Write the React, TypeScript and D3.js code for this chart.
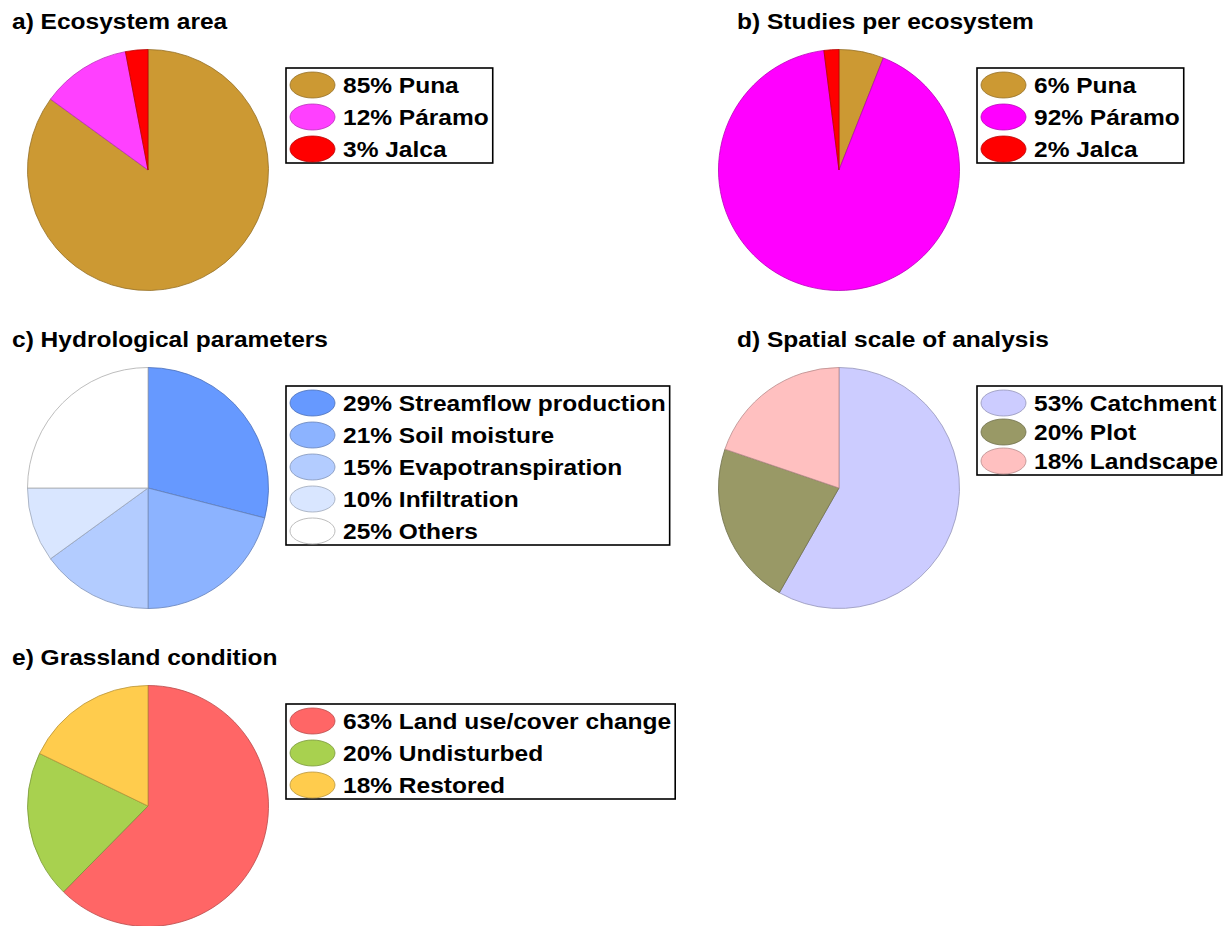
import React, { useEffect, useRef } from "react";
import * as d3 from "d3";

// Share of each category, in percent, per panel
const ecosystems = ["Puna", "Páramo", "Jalca"];
const areaShare = [85, 12, 3];
const studyShare = [6, 92, 2];

const hydroParams = ["Streamflow production", "Soil moisture", "Evapotranspiration", "Infiltration", "Others"];
const hydroShare = [29, 21, 15, 10, 25];

const spatialScales = ["Catchment", "Plot", "Landscape"];
const spatialShare = [53, 20, 18];

const conditions = ["Land use/cover change", "Undisturbed", "Restored"];
const conditionShare = [63, 20, 18];

// Fill colours per panel
const areaColors = ["#CC9933", "#FF40FF", "#FF0000"];
const studyColors = ["#CC9933", "#FF00FF", "#FF0000"];
const hydroColors = ["#6699FF", "#8CB3FF", "#B3CCFF", "#D9E6FF", "#FFFFFF"];
const spatialColors = ["#CCCCFF", "#999966", "#FFC0C0"];
const conditionColors = ["#FF6666", "#A8D14F", "#FFCC4D"];

const titles = [
  "a) Ecosystem area",
  "b) Studies per ecosystem",
  "c) Hydrological parameters",
  "d) Spatial scale of analysis",
  "e) Grassland condition",
];

const W = 1226;
const H = 926;
const FONT = "'Liberation Sans', Arial, Helvetica, sans-serif";
const FONT_SIZE = 21.5;
const STRETCH = 1.14;

export default function App() {
  const ref = useRef<SVGSVGElement | null>(null);

  useEffect(() => {
    const panels = [
      { title: titles[0], labels: ecosystems, values: areaShare, colors: areaColors, rowH: 32 },
      { title: titles[1], labels: ecosystems, values: studyShare, colors: studyColors, rowH: 32 },
      { title: titles[2], labels: hydroParams, values: hydroShare, colors: hydroColors, rowH: 32 },
      { title: titles[3], labels: spatialScales, values: spatialShare, colors: spatialColors, rowH: 29 },
      { title: titles[4], labels: conditions, values: conditionShare, colors: conditionColors, rowH: 32 },
    ];

    const svg = d3.select(ref.current);
    svg.selectAll("*").remove();

    const colX = d3.scaleOrdinal<number, number>().domain([0, 1]).range([0, 691]);
    const titleX = d3.scaleOrdinal<number, number>().domain([0, 1]).range([12, 46]);
    const rowY = d3.scaleLinear().domain([0, 1]).range([0, 318]);

    const radius = 120.5;
    const pie = d3.pie<number>().sort(null).value((d) => d);
    const arc = d3.arc<d3.PieArcDatum<number>>().innerRadius(0).outerRadius(radius);
    const edge = (c: string) => d3.rgb(c).darker(c.toUpperCase() === "#FFFFFF" ? 1.1 : 0.9).formatHex();

    panels.forEach((p, i) => {
      const col = i % 2;
      const g = svg
        .append("g")
        .attr("transform", `translate(${colX(col)},${rowY(Math.floor(i / 2))})`);

      // panel title
      g.append("text")
        .attr("transform", `translate(${titleX(col)},29) scale(${STRETCH},1)`)
        .attr("font-family", FONT)
        .attr("font-weight", "bold")
        .attr("font-size", FONT_SIZE)
        .attr("fill", "#000")
        .text(p.title);

      // pie, starting at 12 o'clock and running clockwise
      const pg = g.append("g").attr("transform", "translate(148,170)");
      pg.selectAll("path")
        .data(pie(p.values))
        .join("path")
        .attr("d", arc)
        .attr("fill", (_, j) => p.colors[j])
        .attr("stroke", (_, j) => edge(p.colors[j]))
        .attr("stroke-width", 0.8)
        .attr("stroke-linejoin", "round");

      // legend
      const lg = g.append("g");
      const boxX = 286;
      const boxTop = 68;
      const firstRow = boxTop + 17;
      const box = lg
        .append("rect")
        .attr("x", boxX)
        .attr("y", boxTop)
        .attr("fill", "#fff")
        .attr("stroke", "#000")
        .attr("stroke-width", 1.6);

      let maxW = 0;
      p.labels.forEach((lab, j) => {
        const cy = firstRow + j * p.rowH;
        lg.append("ellipse")
          .attr("cx", 312.5)
          .attr("cy", cy)
          .attr("rx", 22.5)
          .attr("ry", 13)
          .attr("fill", p.colors[j])
          .attr("stroke", edge(p.colors[j]))
          .attr("stroke-width", 0.8);
        const t = lg
          .append("text")
          .attr("transform", `translate(343,${cy + 8}) scale(${STRETCH},1)`)
          .attr("font-family", FONT)
          .attr("font-weight", "bold")
          .attr("font-size", FONT_SIZE)
          .attr("fill", "#000")
          .text(`${p.values[j]}% ${lab}`);
        const node = t.node() as SVGTextElement;
        maxW = Math.max(maxW, node.getComputedTextLength() * STRETCH);
      });

      const lastRow = firstRow + (p.labels.length - 1) * p.rowH;
      box
        .attr("width", 343 + maxW + 4 - boxX)
        .attr("height", lastRow + 14 - boxTop);
    });
  }, []);

  return (
    <svg
      ref={ref}
      width={W}
      height={H}
      viewBox={`0 0 ${W} ${H}`}
      style={{ position: "absolute", left: 0, top: 0, background: "#fff" }}
    />
  );
}
